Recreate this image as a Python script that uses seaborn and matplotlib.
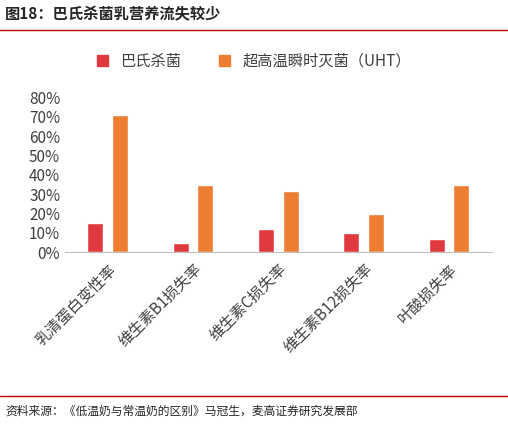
import matplotlib
matplotlib.use("Agg")
import matplotlib.pyplot as plt
import seaborn as sns
import pandas as pd

categories = ["乳清蛋白变性率", "维生素B1损失率", "维生素C损失率", "维生素B12损失率", "叶酸损失率"]
series_names = ["巴氏杀菌", "超高温瞬时灭菌（UHT）"]
past = [15, 5, 12, 10, 7]
uht = [71, 35, 31.5, 20, 35]
yticks = [0, 10, 20, 30, 40, 50, 60, 70, 80]

df = pd.DataFrame({"cat": categories * 2,
                   "ser": [series_names[0]] * 5 + [series_names[1]] * 5,
                   "val": past + uht})

sns.set_style("white")
plt.rcParams['font.family'] = ['Noto Sans CJK SC', 'DejaVu Sans']

fig = plt.figure(figsize=(5.08, 4.24), dpi=100)
ax = fig.add_axes([0.128, 0.405, 0.84, 0.365])
sns.barplot(data=df, x="cat", y="val", hue="ser", palette=["#e0393e", "#ed7d31"],
            saturation=1, width=0.58, gap=0.35, ax=ax, legend=False)
ax.set_ylim(0, 80)
ax.set_yticks(yticks)
ax.set_yticklabels([f"{t}%" for t in yticks], fontsize=11, color="#404040")
ax.set_xticks(range(len(categories)))
ax.set_xticklabels(categories, rotation=45, ha="right", rotation_mode="anchor",
                   fontsize=11, color="#404040")
ax.set_xlabel("")
ax.set_ylabel("")
ax.tick_params(axis="x", length=0, pad=6)
ax.tick_params(axis="y", length=0)
for s in ["top", "right", "left"]:
    ax.spines[s].set_visible(False)
ax.spines["bottom"].set_color("#bfbfbf")

fig.text(0.01, 0.965, "图18：巴氏杀菌乳营养流失较少", fontsize=11, fontweight="bold", va="center")
fig.add_artist(plt.Line2D([0.0, 1.0], [0.93, 0.93], color="#c00000", lw=1))
from matplotlib.patches import Patch
handles = [Patch(color="#e0393e"), Patch(color="#ed7d31")]
fig.legend(handles, series_names, loc="center", bbox_to_anchor=(0.5, 0.855), ncol=2,
           frameon=False, fontsize=11, handlelength=0.7, handleheight=0.7,
           columnspacing=2.5, labelcolor="#404040")
fig.add_artist(plt.Line2D([0.0, 1.0], [0.065, 0.065], color="#c00000", lw=1))
fig.text(0.01, 0.03, "资料来源：《低温奶与常温奶的区别》马冠生，麦高证券研究发展部", fontsize=8.5, va="center")
fig.savefig("out.png", dpi=100)
